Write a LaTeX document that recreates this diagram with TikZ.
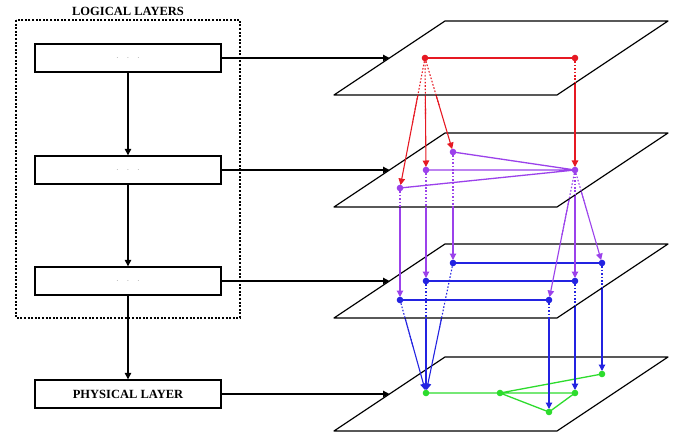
\documentclass[tikz,border=0pt]{standalone}
\usepackage{fontspec}
\setmainfont{Liberation Serif}
\usepackage{xcolor}
\usepackage{tikz}
\usetikzlibrary{arrows.meta}
\usetikzlibrary{calc}
\definecolor{lred}{RGB}{230,25,35}
\definecolor{lpurple}{RGB}{155,65,235}
\definecolor{lblue}{RGB}{35,35,225}
\definecolor{lgreen}{RGB}{45,220,45}
\tikzstyle{layer}=[draw=black,fill=white,line width=1.2pt,line join=round]
\tikzstyle{lbox}=[draw,line width=1.4pt,minimum width=186pt,minimum height=28pt,inner sep=0pt]
\tikzstyle{flowhead}=[>/.tip={Triangle[length=6.5pt,width=6.5pt]}]
\tikzstyle{flow}=[line width=1.1pt,flowhead,->,shorten >=3pt]
\tikzstyle{hidden}=[line width=1.1pt,dash pattern=on 1.6pt off 1.8pt]
\tikzstyle{link}=[line width=1.3pt]
\tikzstyle{map}=[line width=1.2pt,flowhead,->]
\newcommand\boxdots{{\color{gray!60}$\cdot\;\;\cdot\;\;\cdot$}}
\newcommand\capt[1]{{\fontsize{12.5}{13}\selectfont\bfseries #1}}
\newcommand\plane[1]{(445,#1) -- (668,#1) -- ($(557,#1)+(0,74)$) -- ($(334,#1)+(0,74)$) -- cycle}
\newcommand\vtxdot[2]{\fill[#1] (#2) circle (3.3pt);}
\begin{document}
\begin{tikzpicture}[x=1pt,y=-1pt]
	\useasboundingbox (0,0) rectangle (675,433);
	% vertices of the four layers
	\coordinate (r1) at (425,58);  \coordinate (r2) at (575,58);
	\coordinate (p1) at (400,188); \coordinate (p2) at (426,170);
	\coordinate (p3) at (453,152); \coordinate (p4) at (575,170);
	\coordinate (b1) at (400,300); \coordinate (b2) at (426,281);
	\coordinate (b3) at (453,263); \coordinate (b4) at (549,300);
	\coordinate (b5) at (575,281); \coordinate (b6) at (602,263);
	\coordinate (g1) at (426,393); \coordinate (g2) at (500,393);
	\coordinate (g3) at (549,412); \coordinate (g4) at (575,393);
	\coordinate (g5) at (602,374);
	%
	% physical layer
	\draw[layer] \plane{357};
	\draw[link,lgreen] (g1) -- (g2) -- (g5) (g2) -- (g4) (g2) -- (g3) -- (g4);
	\foreach \n in {g1,g2,g3,g4,g5} {\vtxdot{lgreen}{\n}}
	\foreach \s/\t in {b1/g1,b2/g1,b3/g1,b4/g3,b5/g4,b6/g5}
		\draw[flow,lblue] (\s) -- (\t);
	%
	% third layer
	\draw[layer] \plane{244};
	\foreach \s/\t in {b1/g1,b2/g1,b3/g1,b4/g3,b5/g4,b6/g5}
		\draw[hidden,lblue] (\s) -- ($(\s)!.5!(\t)$);
	\draw[link,lblue] (b1) -- (b4) (b2) -- (b5) (b3) -- (b6);
	\foreach \n in {b1,b2,b3,b4,b5,b6} {\vtxdot{lblue}{\n}}
	\foreach \s/\t in {p1/b1,p2/b2,p3/b3,p4/b4,p4/b5,p4/b6}
		\draw[flow,lpurple] (\s) -- (\t);
	%
	% second layer
	\draw[layer] \plane{133};
	\foreach \s/\t in {p1/b1,p2/b2,p3/b3,p4/b4,p4/b5,p4/b6}
		\draw[hidden,lpurple] (\s) -- ($(\s)!.5!(\t)$);
	\draw[link,lpurple] (p1) -- (p4) (p2) -- (p4) (p3) -- (p4);
	\foreach \n in {p1,p2,p3,p4} {\vtxdot{lpurple}{\n}}
	\foreach \s/\t in {r1/p1,r1/p2,r1/p3,r2/p4}
		\draw[flow,lred] (\s) -- (\t);
	%
	% top layer
	\draw[layer] \plane{21};
	\foreach \s/\t in {r1/p1,r1/p2,r1/p3,r2/p4}
		\draw[hidden,lred] (\s) -- ($(\s)!.5!(\t)$);
	\draw[link,lred] (r1) -- (r2);
	\foreach \n in {r1,r2} {\vtxdot{lred}{\n}}
	%
	% left column
	\draw[line width=1.3pt,dash pattern=on 2pt off 1.6pt] (16,20) rectangle (240,318);
	\node (title) at (128,11) {\capt{LOGICAL LAYERS}};
	\node[lbox] (ll1) at (128,58)  {\boxdots};
	\node[lbox] (ll2) at (128,170) {\boxdots};
	\node[lbox] (ll3) at (128,281) {\boxdots};
	\node[lbox] (phy) at (128,394) {\capt{PHYSICAL LAYER}};
	\draw[map] (ll1) -- (ll2);
	\draw[map] (ll2) -- (ll3);
	\draw[map] (ll3) -- (phy);
	%
	\foreach \b in {ll1,ll2,ll3,phy}
		\draw[map] (\b.east) -- (389.5,0 |- \b.east);
\end{tikzpicture}
\end{document}
